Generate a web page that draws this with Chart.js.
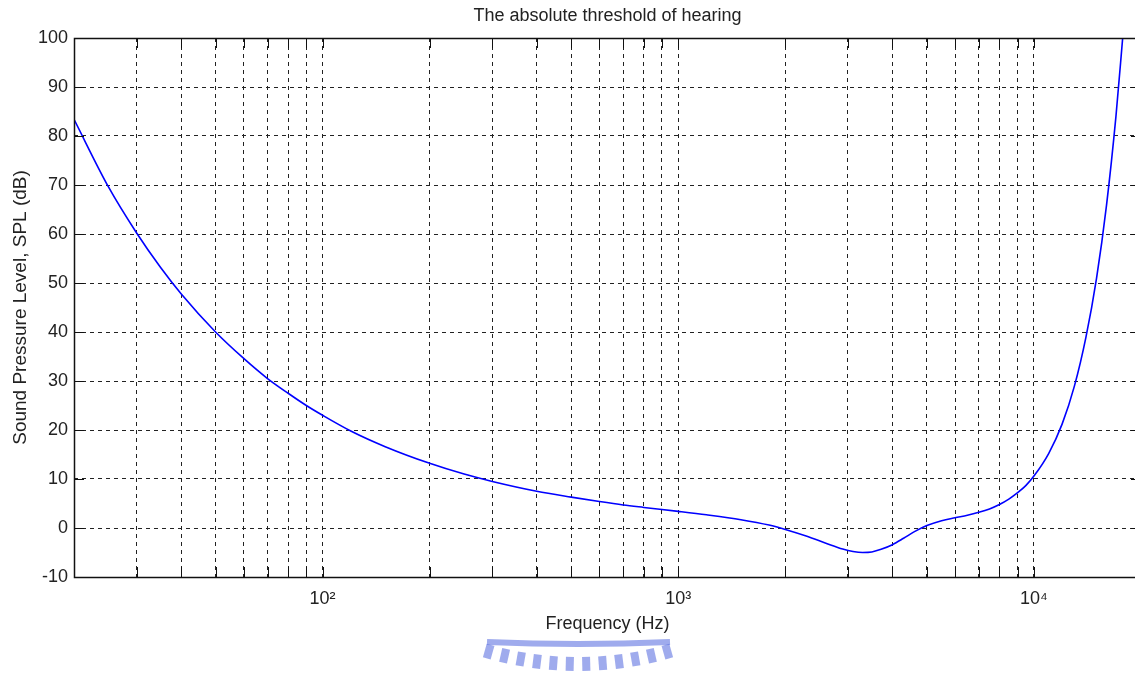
<!DOCTYPE html>
<html>
<head>
<meta charset="utf-8">
<title>The absolute threshold of hearing</title>
<script src="https://cdn.jsdelivr.net/npm/chart.js@4.4.1/dist/chart.umd.min.js"></script>
<style>
html,body{margin:0;padding:0;background:#fff;overflow:hidden;}
#wrap{position:relative;width:1135px;height:676px;overflow:hidden;}
#chart{position:absolute;left:0;top:0;}
#logo{position:absolute;left:470px;top:625px;}
</style>
</head>
<body>
<div id="wrap">
	<canvas id="chart" width="1145" height="676"></canvas>
	<canvas id="logo" width="220" height="51"></canvas>
</div>
<script>
// values
var FREQS = [20,25,30,35,40,50,60,70,80,90,100,120,150,200,250,300,400,500,600,700,800,1000,1200,1500,1800,2000,2300,2600,2900,3100,3300,3500,3700,4000,4300,4600,5000,5500,6000,6500,7000,7500,8000,8500,9000,9500,10000,11000,12000,13000,14000,15000,16000,17000,17800];
var SPL = [83.4,69.6,60.2,53.2,47.8,40.0,34.6,30.5,27.5,25.0,23.0,19.8,16.6,13.2,11.0,9.5,7.5,6.3,5.4,4.7,4.2,3.4,2.7,1.7,0.6,-0.3,-1.7,-3.1,-4.3,-4.8,-5.0,-4.9,-4.4,-3.4,-2.1,-0.8,0.5,1.5,2.1,2.6,3.2,3.9,4.8,5.9,7.2,8.7,10.6,15.2,21.2,29.0,38.9,51.0,65.9,83.9,100.8];

var GRID_FREQS = [30,40,50,60,70,80,90,100,200,300,400,500,600,700,800,900,1000,2000,3000,4000,5000,6000,7000,8000,9000,10000];
var LABEL_FREQS = [100,1000,10000];
var X_RANGE = [20,20000];
var Y_RANGE = [-10,100];
var Y_STEP = 10;

var SUPERS = {'0':'\u2070','1':'\u00b9','2':'\u00b2','3':'\u00b3','4':'\u2074','5':'\u2075'};
var FONT = "'Liberation Sans', Arial, sans-serif";

(function(){
	window.addEventListener('load', function(){
		page_hearing.initialize();
	});
})();

var page_hearing = {
	initialize:function(){
		this.init_chart('chart');
		this.init_logo('logo');
	},
	// matlab style box with inward solid ticks
	axis_box:{
		id:'axisBox',
		afterDatasetsDraw:function(chart){
			var ctx = chart.ctx, a = chart.chartArea;
			var sx = chart.scales.x, sy = chart.scales.y;
			var len = 10, i, p;
			ctx.save();
			ctx.strokeStyle = '#111';
			ctx.lineWidth = 1;
			ctx.setLineDash([]);
			ctx.beginPath();
			for (i = 0; i < sx.ticks.length; i++) {
				p = Math.round(sx.getPixelForValue(sx.ticks[i].value)) + 0.5;
				ctx.moveTo(p, a.bottom); ctx.lineTo(p, a.bottom - len);
				ctx.moveTo(p, a.top); ctx.lineTo(p, a.top + len);
			}
			for (i = 0; i < sy.ticks.length; i++) {
				p = Math.round(sy.getPixelForValue(sy.ticks[i].value)) + 0.5;
				ctx.moveTo(a.left, p); ctx.lineTo(a.left + len, p);
				ctx.moveTo(a.right, p); ctx.lineTo(a.right - len, p);
			}
			ctx.stroke();
			ctx.lineWidth = 1.5;
			ctx.strokeRect(Math.round(a.left) + 0.5, Math.round(a.top) + 0.5, Math.round(a.right - a.left), Math.round(a.bottom - a.top));
			ctx.restore();
		}
	},
	init_chart:function(id){
		var points = [];
		for (var i = 0; i < FREQS.length; i++) {
			points.push({x:FREQS[i], y:SPL[i]});
		}

		var config = {
			type:'line',
			data:{
				datasets:[{
					data:points,
					borderColor:'#0000ff',
					borderWidth:1.6,
					pointRadius:0,
					cubicInterpolationMode:'monotone',
					fill:false
				}]
			},
			options:{
				responsive:false,
				animation:false,
				layout:{padding:{left:0, right:4, top:0, bottom:0}},
				plugins:{
					legend:{display:false},
					tooltip:{enabled:false},
					title:{
						display:true,
						fullSize:false,
						text:'The absolute threshold of hearing',
						color:'#222',
						font:{family:FONT, size:18, weight:'normal', lineHeight:1.2},
						padding:{top:5, bottom:11.4}
					}
				},
				scales:{
					x:{
						type:'logarithmic',
						min:X_RANGE[0],
						max:X_RANGE[1],
						afterBuildTicks:function(scale){
							scale.ticks = GRID_FREQS.map(function(v){ return {value:v}; });
						},
						afterFit:function(scale){ scale.height = 99; },
						grid:{color:'#222', lineWidth:1, drawTicks:false},
						border:{display:false, dash:[4,4]},
						ticks:{
							autoSkip:false,
							maxRotation:0,
							padding:11,
							color:'#222',
							font:{family:FONT, size:18},
							callback:function(v){
								if (LABEL_FREQS.indexOf(v) < 0) return '';
								var e = String(Math.round(Math.log10(v)));
								return '10' + SUPERS[e];
							}
						},
						title:{
							display:true,
							text:'Frequency (Hz)',
							color:'#222',
							font:{family:FONT, size:18, lineHeight:1.2},
							padding:{top:0, bottom:41}
						}
					},
					y:{
						min:Y_RANGE[0],
						max:Y_RANGE[1],
						afterFit:function(scale){ scale.width = 74; },
						grid:{color:'#222', lineWidth:1, drawTicks:false},
						border:{display:false, dash:[4,4]},
						ticks:{
							stepSize:Y_STEP,
							padding:6,
							color:'#222',
							font:{family:FONT, size:18}
						},
						title:{
							display:true,
							text:'Sound Pressure Level, SPL (dB)',
							color:'#222',
							font:{family:FONT, size:19, lineHeight:1.2},
							padding:{top:9, bottom:0}
						}
					}
				}
			},
			plugins:[this.axis_box]
		};

		var ctx = document.getElementById(id).getContext('2d');
		var myChart = new Chart(ctx, config);
	},
	// faint watermark under the axis label
	init_logo:function(id){
		var ctx = document.getElementById(id).getContext('2d');
		var cx = 108, cy = -290, i, ang;
		ctx.fillStyle = 'rgba(95,115,225,0.6)';
		ctx.strokeStyle = 'rgba(95,115,225,0.6)';
		ctx.lineWidth = 6;
		ctx.beginPath();
		ctx.moveTo(17, 17);
		ctx.quadraticCurveTo(108, 21, 200, 17);
		ctx.stroke();
		for (i = 0; i < 12; i++) {
			ang = (i - 5.5) * 0.05;
			ctx.save();
			ctx.translate(cx, cy);
			ctx.rotate(-ang);
			ctx.fillRect(-4, 322, 8, 14);
			ctx.restore();
		}
	}
};
</script>
</body>
</html>
